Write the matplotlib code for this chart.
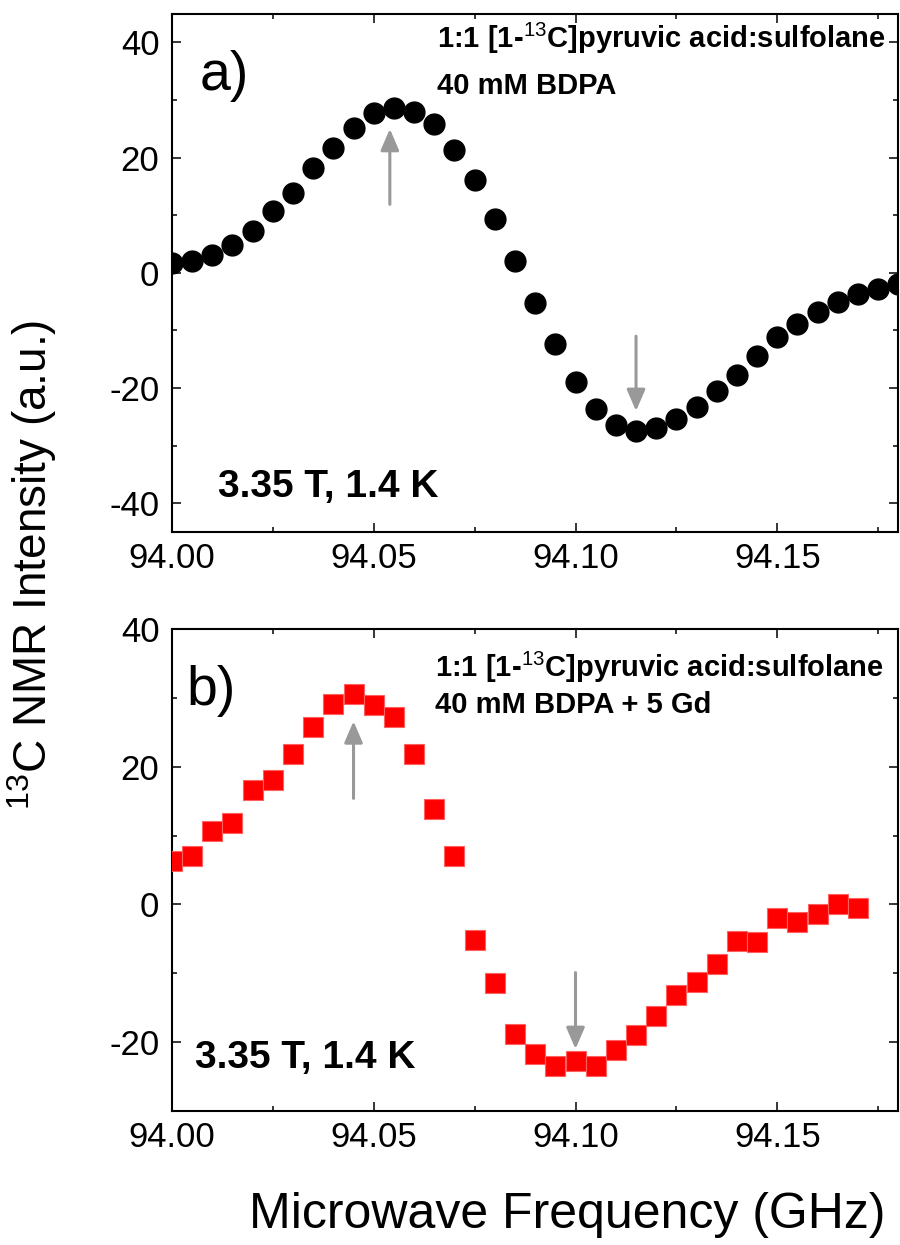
import numpy as np
import matplotlib
matplotlib.use("Agg")
import matplotlib.pyplot as plt
from matplotlib.ticker import MultipleLocator, FormatStrFormatter

plt.rcParams['font.family'] = ['Liberation Sans', 'DejaVu Sans']
plt.rcParams['mathtext.fontset'] = 'custom'
plt.rcParams['mathtext.rm'] = 'Liberation Sans'
plt.rcParams['mathtext.bf'] = 'Liberation Sans:bold'
plt.rcParams['axes.unicode_minus'] = False

# ---- data ----
freq_a = [94.000, 94.005, 94.010, 94.015, 94.020, 94.025, 94.030, 94.035, 94.040,
          94.045, 94.050, 94.055, 94.060, 94.065, 94.070, 94.075, 94.080, 94.085,
          94.090, 94.095, 94.100, 94.105, 94.110, 94.115, 94.120, 94.125, 94.130,
          94.135, 94.140, 94.145, 94.150, 94.155, 94.160, 94.165, 94.170, 94.175,
          94.180]
intens_a = [1.7, 2.1, 3.1, 4.8, 7.2, 10.7, 13.9, 18.2, 21.6, 25.2, 27.7, 28.6, 27.9,
            25.8, 21.3, 16.1, 9.4, 2.0, -5.3, -12.4, -18.9, -23.6, -26.5, -27.4,
            -26.9, -25.3, -23.3, -20.6, -17.7, -14.4, -11.1, -8.9, -6.8, -5.1, -3.7,
            -2.8, -1.9]

freq_b = [94.000, 94.005, 94.010, 94.015, 94.020, 94.025, 94.030, 94.035, 94.040,
          94.045, 94.050, 94.055, 94.060, 94.065, 94.070, 94.075, 94.080, 94.085,
          94.090, 94.095, 94.100, 94.105, 94.110, 94.115, 94.120, 94.125, 94.130,
          94.135, 94.140, 94.145, 94.150, 94.155, 94.160, 94.165, 94.170]
intens_b = [6.3, 7.1, 10.7, 11.8, 16.6, 18.0, 21.9, 25.8, 29.1, 30.6, 28.9, 27.2, 21.9,
            13.9, 7.1, -5.2, -11.4, -18.8, -21.7, -23.4, -22.8, -23.4, -21.1, -18.9,
            -16.2, -13.2, -11.3, -8.7, -5.3, -5.4, -2.0, -2.5, -1.4, 0.0, -0.5]

# arrows: (x, y_tail, y_head)
arrows_a = [(94.054, 11.9, 25.0), (94.115, -11.0, -24.0)]
arrows_b = [(94.045, 15.4, 26.6), (94.100, -9.9, -21.0)]

sample_line1 = r'1:1 [1-$^{13}$C]pyruvic acid:sulfolane'
sample_a = '40 mM BDPA'
sample_b = '40 mM BDPA + 5 Gd'
cond = '3.35 T, 1.4 K'

fig = plt.figure(figsize=(9.0, 12.45), dpi=100)
ax1 = fig.add_axes([0.191, 0.5727, 0.8072, 0.4163])
ax2 = fig.add_axes([0.191, 0.1076, 0.8072, 0.3872])

for ax in (ax1, ax2):
    ax.set_xlim(94.0, 94.18)
    ax.xaxis.set_major_locator(MultipleLocator(0.05))
    ax.xaxis.set_minor_locator(MultipleLocator(0.025))
    ax.xaxis.set_major_formatter(FormatStrFormatter('%.2f'))
    ax.yaxis.set_major_locator(MultipleLocator(20))
    ax.yaxis.set_minor_locator(MultipleLocator(10))
    ax.tick_params(which='both', direction='in', top=True, right=True, width=1.1)
    ax.tick_params(which='major', length=6.5, labelsize=25)
    ax.tick_params(which='minor', length=3.6)
    ax.tick_params(axis='x', pad=7)
    ax.tick_params(axis='y', pad=9)
    for s in ax.spines.values():
        s.set_linewidth(1.5)

ax1.set_ylim(-45, 45)
ax2.set_ylim(-30, 40)

ax1.plot(freq_a, intens_a, 'o', color='black', markersize=15, zorder=3)
ax2.plot(freq_b, intens_b, 's', color='#ff0000', markeredgecolor='#ff6060',
         markeredgewidth=0.8, markersize=14.5, zorder=3)

for ax, arrs in ((ax1, arrows_a), (ax2, arrows_b)):
    for x, yt, yh in arrs:
        ax.annotate('', xy=(x, yh), xytext=(x, yt),
                    arrowprops=dict(arrowstyle='-|>,head_length=0.65,head_width=0.28',
                                    color='#999999', lw=2.2, mutation_scale=20,
                                    shrinkA=0, shrinkB=0), zorder=2)

ax1.text(0.038, 0.853, 'a)', transform=ax1.transAxes, fontsize=40, va='baseline')
ax1.text(0.365, 0.934, sample_line1, transform=ax1.transAxes, fontsize=21,
         fontweight='bold', va='baseline')
ax1.text(0.365, 0.845, sample_a, transform=ax1.transAxes, fontsize=21,
         fontweight='bold', va='baseline')
ax1.text(0.063, 0.0675, cond, transform=ax1.transAxes, fontsize=28,
         fontweight='bold', va='baseline')

ax2.text(0.020, 0.842, 'b)', transform=ax2.transAxes, fontsize=40, va='baseline')
ax2.text(0.362, 0.900, sample_line1, transform=ax2.transAxes, fontsize=21,
         fontweight='bold', va='baseline')
ax2.text(0.362, 0.826, sample_b, transform=ax2.transAxes, fontsize=21,
         fontweight='bold', va='baseline')
ax2.text(0.032, 0.089, cond, transform=ax2.transAxes, fontsize=28,
         fontweight='bold', va='baseline')

fig.text(0.036, 0.546, r'$^{13}$C NMR Intensity (a.u.)', rotation=90,
         fontsize=33, ha='center', va='center')
fig.text(0.630, 0.024, 'Microwave Frequency (GHz)', fontsize=36,
         ha='center', va='center')

fig.savefig('out.png', dpi=100)
